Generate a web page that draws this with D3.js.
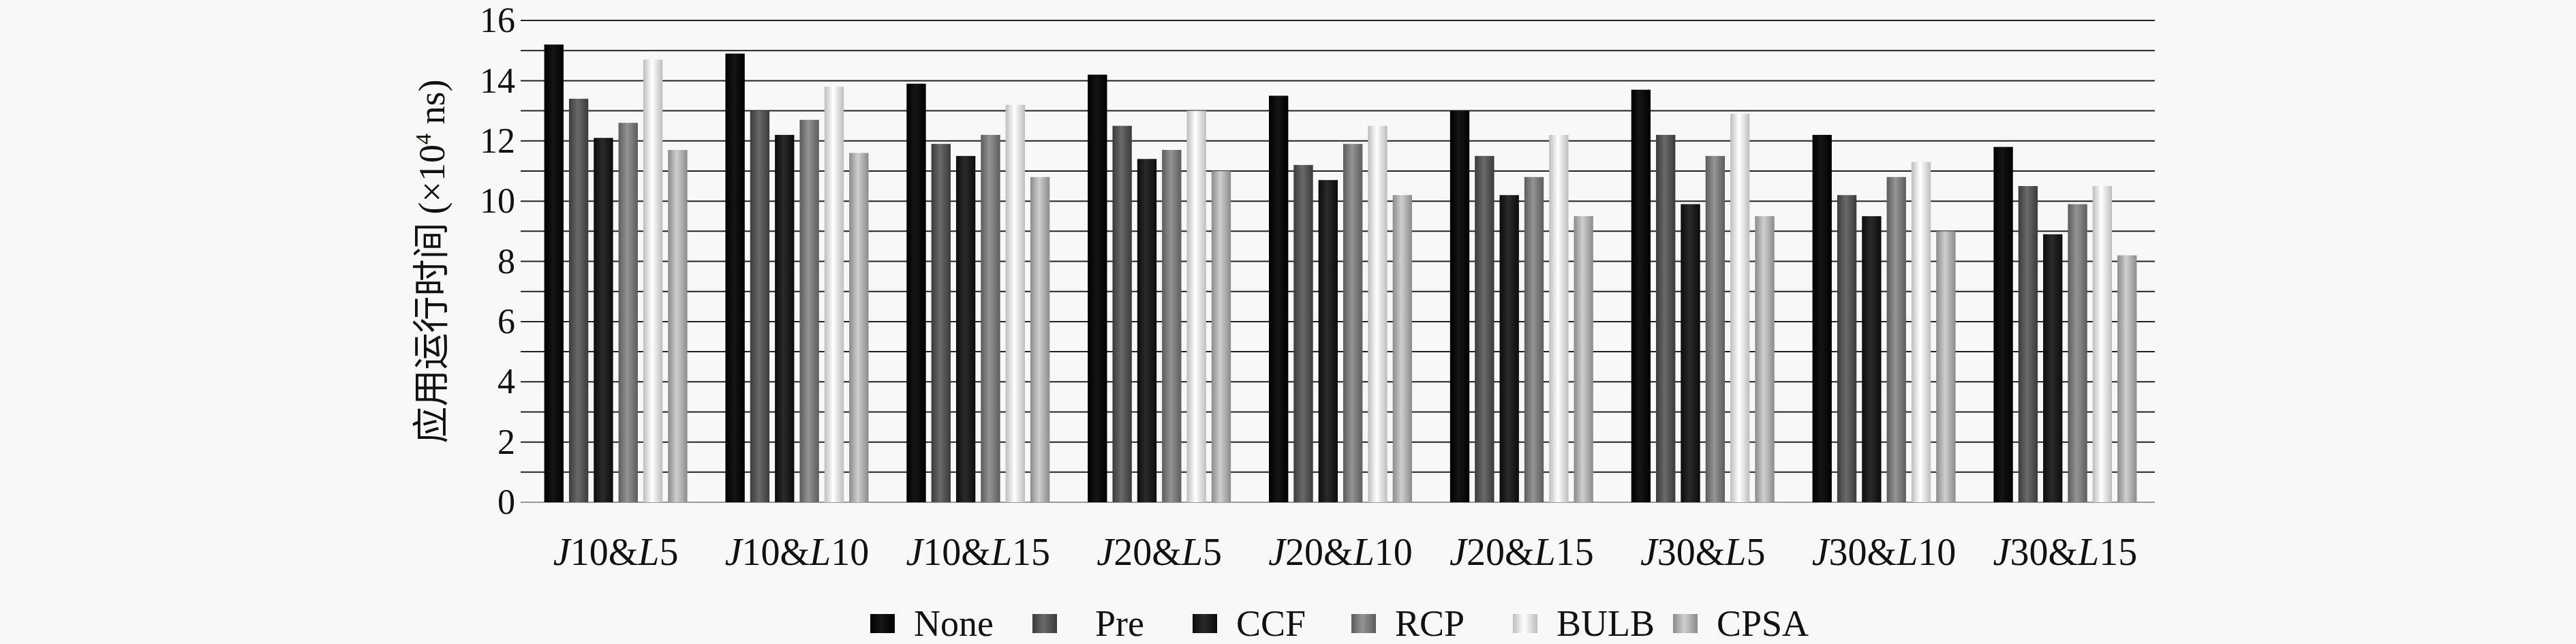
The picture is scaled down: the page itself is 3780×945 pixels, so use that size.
<!DOCTYPE html>
<html><head><meta charset="utf-8">
<script src="https://cdn.jsdelivr.net/npm/d3@7"></script>
<style>body{margin:0;background:#f8f8f8}svg{display:block}</style>
</head><body><div id="chart"></div>
<script>
var svgWidth = 3780, svgHeight = 945;
var margin = {top: 30, left: 772, right: 618, bottom: 208};
var width = svgWidth - margin.left - margin.right;
var height = svgHeight - margin.top - margin.bottom;

// data
var groups = [["10","5"],["10","10"],["10","15"],["20","5"],["20","10"],["20","15"],["30","5"],["30","10"],["30","15"]];
var series = ["None","Pre","CCF","RCP","BULB","CPSA"];
var none = [15.2,14.9,13.9,14.2,13.5,13.0,13.7,12.2,11.8];
var pre  = [13.4,13.0,11.9,12.5,11.2,11.5,12.2,10.2,10.5];
var ccf  = [12.1,12.2,11.5,11.4,10.7,10.2,9.9,9.5,8.9];
var rcp  = [12.6,12.7,12.2,11.7,11.9,10.8,11.5,10.8,9.9];
var bulb = [14.7,13.8,13.2,13.0,12.5,12.2,12.9,11.3,10.5];
var cpsa = [11.7,11.6,10.8,11.0,10.2,9.5,9.5,9.0,8.2];
var values = [none, pre, ccf, rcp, bulb, cpsa];
var yTicks = [0,2,4,6,8,10,12,14,16];

// shading: [edge, centre]
var shades = [["#000","#151515"],["#3a3a3a","#6a6a6a"],["#0c0c0c","#2a2a2a"],["#5c5c5c","#949494"],["#bdbdbd","#ffffff"],["#8a8a8a","#cfcfcf"]];

var svg = d3.select("#chart").append("svg").attr("width", svgWidth).attr("height", svgHeight);
var defs = svg.append("defs");
shades.forEach(function(s, i) {
  var g = defs.append("linearGradient").attr("id", "g" + i);
  g.append("stop").attr("offset", "0%").attr("stop-color", s[0]);
  g.append("stop").attr("offset", "45%").attr("stop-color", s[1]);
  g.append("stop").attr("offset", "100%").attr("stop-color", s[0]);
});
var chartGroup = svg.append("g").attr("transform", `translate(${margin.left}, ${margin.top})`);

var x0 = d3.scaleBand().domain(d3.range(groups.length)).range([0, width]).paddingInner(0.15).paddingOuter(0.07);
var x1 = d3.scaleBand().domain(d3.range(series.length)).range([0, x0.bandwidth()]).padding(0.22);
var y = d3.scaleLinear().domain([0, 16]).range([height, 0]);

// gridlines every unit
chartGroup.append("g").selectAll("line").data(d3.range(0, 17)).enter().append("line")
  .attr("x1", -8).attr("x2", width).attr("y1", d => y(d)).attr("y2", d => y(d))
  .attr("stroke", d => d === 0 ? "#999" : "#222").attr("stroke-width", 2);

var leftAxis = d3.axisLeft(y).tickValues(yTicks).tickSize(0).tickPadding(16);
chartGroup.append("g").call(leftAxis).call(g => g.select(".domain").remove())
  .selectAll("text").attr("font-family", "Liberation Serif").attr("font-size", 52).attr("fill", "#111");

var gs = chartGroup.selectAll(".grp").data(groups).enter().append("g")
  .attr("transform", (d, i) => `translate(${x0(i)},0)`);
gs.selectAll("rect").data((d, i) => values.map(v => v[i])).enter().append("rect")
  .attr("x", (d, j) => x1(j)).attr("width", x1.bandwidth())
  .attr("y", d => y(d)).attr("height", d => y(0) - y(d))
  .attr("fill", (d, j) => `url(#g${j})`);

// category labels
var lab = chartGroup.selectAll(".cat").data(groups).enter().append("text")
  .attr("x", (d, i) => x0(i) + x0.bandwidth() / 2).attr("y", height + 92)
  .attr("text-anchor", "middle").attr("font-family", "Liberation Serif").attr("font-size", 56).attr("fill", "#111");
lab.append("tspan").attr("font-style", "italic").text("J");
lab.append("tspan").text(d => d[0] + "&");
lab.append("tspan").attr("font-style", "italic").text("L");
lab.append("tspan").text(d => d[1]);

// y axis title
var yt = svg.append("text").attr("transform", `translate(652, ${margin.top + height / 2}) rotate(-90)`)
  .attr("text-anchor", "middle").attr("font-size", 54).attr("fill", "#111").attr("font-family", "Liberation Serif, Noto Sans CJK SC");
yt.append("tspan").attr("font-family", "Noto Sans CJK SC").text("应用运行时间 ");
yt.append("tspan").text("(×10");
yt.append("tspan").attr("font-size", 32).attr("dy", -20).text("4");
yt.append("tspan").attr("dy", 20).text(" ns)");

// legend
var legX = [1277, 1515, 1750, 1983, 2220, 2455];
var leg = svg.append("g").selectAll("g").data(series).enter().append("g")
  .attr("transform", (d, i) => `translate(${legX[i]}, 933)`);
leg.append("rect").attr("y", -32).attr("width", 36).attr("height", 28).attr("fill", (d, i) => `url(#g${i})`);
leg.append("text").attr("x", (d, i) => i === 1 ? 92 : 64).attr("font-family", "Liberation Serif").attr("font-size", 54).attr("fill", "#111").text(d => d);
</script></body></html>
